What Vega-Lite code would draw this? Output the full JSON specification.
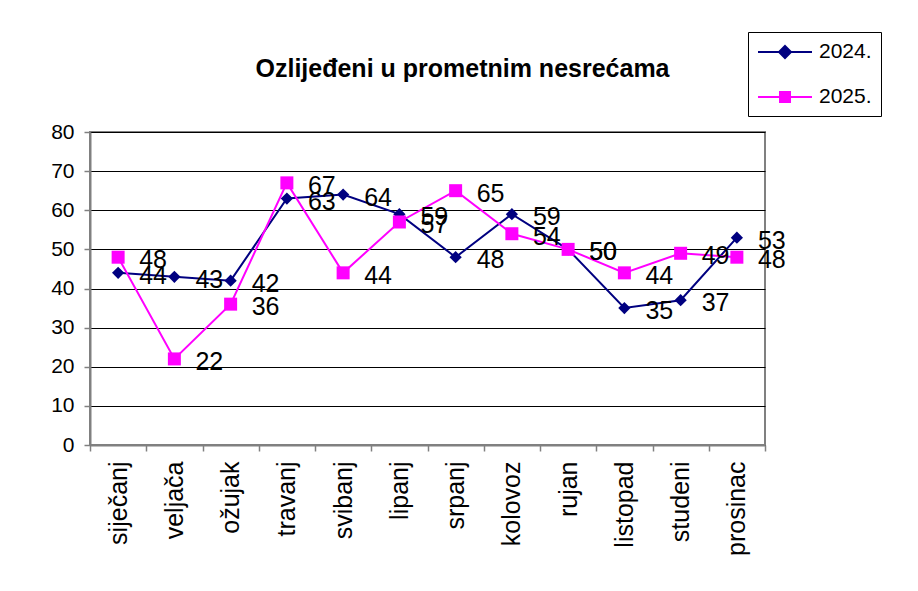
{
  "$schema": "https://vega.github.io/schema/vega-lite/v6.json",
  "autosize": {"type": "none"},
  "width": 675,
  "height": 313,
  "padding": {"left": 90, "top": 132, "right": 153, "bottom": 146},
  "background": "white",
  "config": {
    "font": "Liberation Sans",
    "view": {"stroke": "#808080", "strokeWidth": 2}
  },
  "title": {
    "text": "Ozlijeđeni u prometnim nesrećama",
    "fontSize": 25,
    "fontWeight": "bold",
    "font": "Liberation Sans",
    "color": "black",
    "anchor": "middle",
    "frame": "group",
    "dx": 35,
    "offset": -50
  },
  "data": {
    "values": [
      {"month": "siječanj", "year": "2024.", "value": 44},
      {"month": "veljača", "year": "2024.", "value": 43},
      {"month": "ožujak", "year": "2024.", "value": 42},
      {"month": "travanj", "year": "2024.", "value": 63},
      {"month": "svibanj", "year": "2024.", "value": 64},
      {"month": "lipanj", "year": "2024.", "value": 59},
      {"month": "srpanj", "year": "2024.", "value": 48},
      {"month": "kolovoz", "year": "2024.", "value": 59},
      {"month": "rujan", "year": "2024.", "value": 50},
      {"month": "listopad", "year": "2024.", "value": 35},
      {"month": "studeni", "year": "2024.", "value": 37},
      {"month": "prosinac", "year": "2024.", "value": 53},
      {"month": "siječanj", "year": "2025.", "value": 48},
      {"month": "veljača", "year": "2025.", "value": 22},
      {"month": "ožujak", "year": "2025.", "value": 36},
      {"month": "travanj", "year": "2025.", "value": 67},
      {"month": "svibanj", "year": "2025.", "value": 44},
      {"month": "lipanj", "year": "2025.", "value": 57},
      {"month": "srpanj", "year": "2025.", "value": 65},
      {"month": "kolovoz", "year": "2025.", "value": 54},
      {"month": "rujan", "year": "2025.", "value": 50},
      {"month": "listopad", "year": "2025.", "value": 44},
      {"month": "studeni", "year": "2025.", "value": 49},
      {"month": "prosinac", "year": "2025.", "value": 48}
    ]
  },
  "encoding": {
    "x": {
      "field": "month",
      "type": "ordinal",
      "sort": ["siječanj", "veljača", "ožujak", "travanj", "svibanj", "lipanj", "srpanj", "kolovoz", "rujan", "listopad", "studeni", "prosinac"],
      "scale": {"type": "band", "paddingInner": 0, "paddingOuter": 0},
      "axis": {
        "title": null,
        "labelAngle": -90,
        "labelFontSize": 25,
        "labelColor": "black",
        "labelPadding": 10,
        "tickBand": "extent",
        "tickSize": 6,
        "tickColor": "#808080",
        "tickWidth": 1.5,
        "domainColor": "#808080",
        "domainWidth": 2,
        "grid": false
      }
    },
    "y": {
      "field": "value",
      "type": "quantitative",
      "scale": {"domain": [0, 80], "nice": false},
      "axis": {
        "title": null,
        "values": [0, 10, 20, 30, 40, 50, 60, 70, 80],
        "labelFontSize": 21,
        "labelColor": "black",
        "labelPadding": 10,
        "tickSize": 6,
        "tickColor": "#808080",
        "tickWidth": 1.5,
        "domainColor": "#808080",
        "domainWidth": 2,
        "grid": true,
        "gridColor": "black",
        "gridWidth": 1,
        "gridOpacity": 1
      }
    },
    "color": {
      "field": "year",
      "type": "nominal",
      "scale": {"domain": ["2024.", "2025."], "range": ["#000080", "#FF00FF"]},
      "legend": {
        "title": null,
        "orient": "none",
        "legendX": 658,
        "legendY": -100,
        "strokeColor": "black",
        "fillColor": "white",
        "padding": 9,
        "symbolSize": 400,
        "symbolStrokeWidth": 2,
        "labelFontSize": 21,
        "labelColor": "black",
        "labelOffset": 40,
        "rowPadding": 24,
        "encode": {
          "symbols": {
            "update": {
              "shape": {"signal": "datum.value === '2024.' ? 'M-1,0H4.4M1.7,-0.6L2.3,0L1.7,0.6L1.1,0Z' : 'M-1,0H4.4M1.2,-0.5H2.2V0.5H1.2Z'"},
              "fill": {"signal": "datum.value === '2024.' ? '#000080' : '#FF00FF'"},
              "stroke": {"signal": "datum.value === '2024.' ? '#000080' : '#FF00FF'"},
              "strokeWidth": {"value": 2},
              "opacity": {"value": 1}
            }
          }
        }
      }
    }
  },
  "layer": [
    {"mark": {"type": "line", "strokeWidth": 2}},
    {
      "transform": [{"filter": "datum.year === '2024.'"}],
      "mark": {"type": "point", "shape": "diamond", "filled": true, "opacity": 1, "size": 150}
    },
    {
      "transform": [{"filter": "datum.year === '2025.'"}],
      "mark": {"type": "point", "shape": "square", "filled": true, "opacity": 1, "size": 169}
    },
    {
      "mark": {"type": "text", "align": "left", "baseline": "middle", "dx": 21, "dy": 3, "fontSize": 25, "color": "black"},
      "encoding": {
        "text": {"field": "value", "type": "quantitative"},
        "color": {"value": "black"}
      }
    }
  ]
}
